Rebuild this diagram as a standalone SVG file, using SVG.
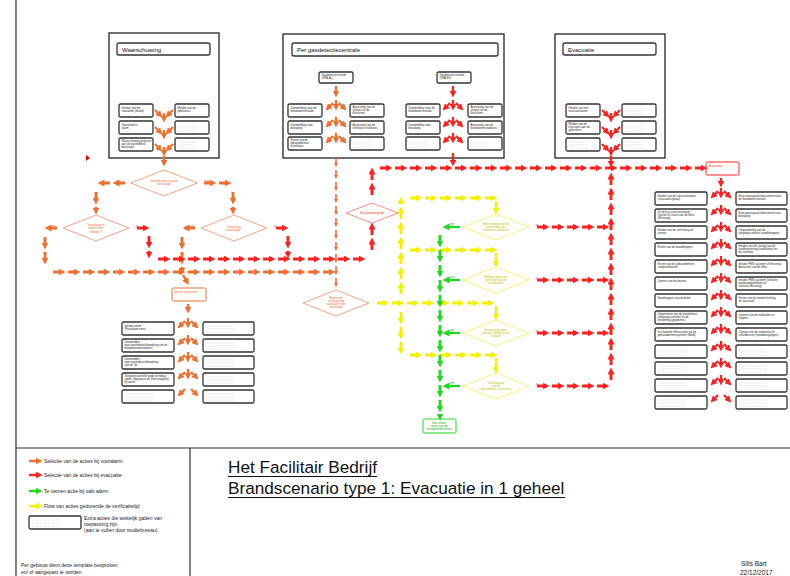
<svg xmlns="http://www.w3.org/2000/svg" width="790" height="576" viewBox="0 0 790 576">
<defs>
<style>
text{font-family:"Liberation Sans",Arial,sans-serif}
.fr{fill:#fff;stroke:#222;stroke-width:1.3}
.tb{fill:#fff;stroke:#333;stroke-width:1.3}
.tt{font-size:6px;fill:#111}
.sb{fill:#fff;stroke:#333;stroke-width:1.3}
.s{font-size:2.8px;fill:#222}
.fl{stroke:#cfcfcf;stroke-width:0.6;stroke-dasharray:1 0.6;fill:none}
.d{fill:none;stroke-width:2.9;stroke-dasharray:9 6;stroke-dashoffset:9}
.dt{fill:none;stroke-width:1.6;stroke-dasharray:7 5;stroke-dashoffset:7}
.a{fill:none;stroke-width:2.3}
.o{stroke:#ef6f2e;marker-mid:url(#mo);marker-end:url(#mo)}
.r{stroke:#ff2020;marker-mid:url(#mr);marker-end:url(#mr)}
.y{stroke:#f2f200;marker-mid:url(#my);marker-end:url(#my)}
.g{stroke:#1fd81f;marker-mid:url(#mg);marker-end:url(#mg)}
.ot{stroke:#ef6f2e;marker-mid:url(#mos);marker-end:url(#mos)}
.dio{fill:#fff;stroke:#f6a57f;stroke-width:1}
.dir{fill:#fff;stroke:#ff8a8a;stroke-width:1}
.diy{fill:#fff;stroke:#f8f27a;stroke-width:1}
.lo{font-size:3px;fill:#ef6f2e;text-anchor:middle}
.lr{font-size:3px;fill:#ff2020;text-anchor:middle}
.ly{font-size:3px;fill:#c9bc00;text-anchor:middle}
.lg{font-size:3px;fill:#1aa81a;text-anchor:middle}
.lgd{font-size:5px;fill:#222}
</style>
<marker id="mo" viewBox="0 0 7 7" refX="3.5" refY="3.5" markerWidth="7" markerHeight="7" markerUnits="userSpaceOnUse" orient="auto"><path d="M0,0L7,3.5L0,7z" fill="#ef6f2e"/></marker>
<marker id="mos" viewBox="0 0 4 4" refX="2" refY="2" markerWidth="4" markerHeight="4" markerUnits="userSpaceOnUse" orient="auto"><path d="M0,0L4,2L0,4z" fill="#ef6f2e"/></marker>
<marker id="mr" viewBox="0 0 7 7" refX="3.5" refY="3.5" markerWidth="7" markerHeight="7" markerUnits="userSpaceOnUse" orient="auto"><path d="M0,0L7,3.5L0,7z" fill="#ff2020"/></marker>
<marker id="my" viewBox="0 0 7 7" refX="3.5" refY="3.5" markerWidth="7" markerHeight="7" markerUnits="userSpaceOnUse" orient="auto"><path d="M0,0L7,3.5L0,7z" fill="#f2f200"/></marker>
<marker id="mg" viewBox="0 0 7 7" refX="3.5" refY="3.5" markerWidth="7" markerHeight="7" markerUnits="userSpaceOnUse" orient="auto"><path d="M0,0L7,3.5L0,7z" fill="#1fd81f"/></marker>
<g id="fo-o"><path class="a o" d="M0 -4v7"/><path class="a o" d="M-3 -1l-5 5"/><path class="a o" d="M3 -1l5 5"/></g>
<g id="fo-o-last"><path class="a o" d="M-3 -1l-5 5"/><path class="a o" d="M3 -1l5 5"/></g>
<g id="fo-r"><path class="a r" d="M0 -4v7"/><path class="a r" d="M-3 -1l-5 5"/><path class="a r" d="M3 -1l5 5"/></g>
<g id="fo-r-last"><path class="a r" d="M-3 -1l-5 5"/><path class="a r" d="M3 -1l5 5"/></g>
<g id="fi-o"><path class="a o" d="M-9 6l5 5"/><path class="a o" d="M9 6l-5 5"/><path class="a o" d="M0 9v6"/></g>
<g id="fi-r"><path class="a r" d="M-9 6l5 5"/><path class="a r" d="M9 6l-5 5"/><path class="a r" d="M0 9v6"/></g>
<path id="fill34" class="fl" d="M3 4h19M3 7h19M3 10h19"/>
<path id="fill52" class="fl" d="M3 4h28M3 7h28M3 10h28"/>
</defs>
<rect width="790" height="576" fill="#fff"/>

<g id="frame" fill="none" stroke="#333" stroke-width="1.2"><path d="M16 0V576M16 448H790M190 448V576"/></g>

<!-- Waarschuwing -->
<g id="waarschuwing">
<rect class="fr" x="109" y="33" width="110" height="125"/>
<rect class="tb" x="117" y="43" width="93" height="12" rx="2"/>
<text class="tt" x="122" y="51.5">Waarschuwing</text>
</g>
<g id="w-l1" transform="translate(119,104)"><rect class="sb" width="34" height="13" rx="1.5"/><text class="s" x="2.5" y="4.5">Inhalen van het<tspan x="2.5" dy="3.2">vooralarm (brand)</tspan></text></g>
<g id="w-l2" transform="translate(119,121)"><rect class="sb" width="34" height="13" rx="1.5"/><text class="s" x="2.5" y="4.5">Vooralarm in<tspan x="2.5" dy="3.2">alarm</tspan></text></g>
<g id="w-l3" transform="translate(119,138)"><rect class="sb" width="34" height="13" rx="1.5"/><text class="s" x="2.5" y="4.2">Waarschuwing gegeven<tspan x="2.5" dy="3.1">aan de wachtdienst</tspan><tspan x="2.5" dy="3.1">bevestigd</tspan></text></g>
<g id="w-r1" transform="translate(175,104)"><rect class="sb" width="34" height="13" rx="1.5"/><text class="s" x="2.5" y="4.5">Melden van de<tspan x="2.5" dy="3.2">gebruikers</tspan></text></g>
<g id="w-r2" transform="translate(175,121)"><rect class="sb" width="34" height="13" rx="1.5"/><use href="#fill34"/></g>
<g id="w-r3" transform="translate(175,138)"><rect class="sb" width="34" height="13" rx="1.5"/><use href="#fill34"/></g>

<!-- Per gasdetectiecentrale -->
<g id="gasdetectie">
<rect class="fr" x="283" y="34" width="221" height="124"/>
<rect class="tb" x="292" y="43" width="206" height="13" rx="2"/>
<text class="tt" x="297" y="52">Per gasdetectiecentrale</text>
</g>
<g id="g-pre" transform="translate(319,72)"><rect class="sb" width="34" height="11" rx="1.5"/><text class="s" x="2.5" y="4.2">Gasdetectiecentrale<tspan x="2.5" dy="3.2">(VPA-AL)</tspan></text></g>
<g id="g-ev" transform="translate(437,72)"><rect class="sb" width="34" height="11" rx="1.5"/><text class="s" x="2.5" y="4.2">Gasdetectiecentrale<tspan x="2.5" dy="3.2">(VPA-EV)</tspan></text></g>
<g id="g-a1" transform="translate(288,104)"><rect class="sb" width="34" height="13" rx="1.5"/><text class="s" x="2.5" y="4.5">Doormelding naar de<tspan x="2.5" dy="3.2">brandweercentrale</tspan></text></g>
<g id="g-a2" transform="translate(288,121)"><rect class="sb" width="34" height="13" rx="1.5"/><text class="s" x="2.5" y="4.5">Doormelding naar<tspan x="2.5" dy="3.2">bewaking</tspan></text></g>
<g id="g-a3" transform="translate(288,137)"><rect class="sb" width="34" height="13" rx="1.5"/><text class="s" x="2.5" y="4.2">Sturen van de<tspan x="2.5" dy="3.1">gebouwbeheer-</tspan><tspan x="2.5" dy="3.1">installaties</tspan></text></g>
<g id="g-b1" transform="translate(350,104)"><rect class="sb" width="34" height="13" rx="1.5"/><text class="s" x="2.5" y="4.2">Aansturing van de<tspan x="2.5" dy="3.1">sirenes en de</tspan><tspan x="2.5" dy="3.1">flitslichten</tspan></text></g>
<g id="g-b2" transform="translate(350,121)"><rect class="sb" width="34" height="13" rx="1.5"/><text class="s" x="2.5" y="4.5">Aansturing van de<tspan x="2.5" dy="3.2">ventilatie-installaties</tspan></text></g>
<g id="g-b3" transform="translate(350,137)"><rect class="sb" width="34" height="13" rx="1.5"/><use href="#fill34"/></g>
<g id="g-c1" transform="translate(406,104)"><rect class="sb" width="34" height="13" rx="1.5"/><text class="s" x="2.5" y="4.5">Doormelding naar de<tspan x="2.5" dy="3.2">brandweercentrale</tspan></text></g>
<g id="g-c2" transform="translate(406,121)"><rect class="sb" width="34" height="13" rx="1.5"/><text class="s" x="2.5" y="4.5">Doormelding naar<tspan x="2.5" dy="3.2">bewaking</tspan></text></g>
<g id="g-c3" transform="translate(406,137)"><rect class="sb" width="34" height="13" rx="1.5"/><use href="#fill34"/></g>
<g id="g-d1" transform="translate(468,104)"><rect class="sb" width="34" height="13" rx="1.5"/><text class="s" x="2.5" y="4.2">Aansturing van de<tspan x="2.5" dy="3.1">sirenes en de</tspan><tspan x="2.5" dy="3.1">flitslichten</tspan></text></g>
<g id="g-d2" transform="translate(468,121)"><rect class="sb" width="34" height="13" rx="1.5"/><text class="s" x="2.5" y="4.5">Aansturing van de<tspan x="2.5" dy="3.2">brandweerinstallaties</tspan></text></g>
<g id="g-d3" transform="translate(468,137)"><rect class="sb" width="34" height="13" rx="1.5"/><use href="#fill34"/></g>

<!-- Evacuatie top -->
<g id="evacuatie">
<rect class="fr" x="555" y="34" width="110" height="124"/>
<rect class="tb" x="563" y="43" width="93" height="12" rx="2"/>
<text class="tt" x="568" y="51.5">Evacuatie</text>
</g>
<g id="e-l1" transform="translate(566,104)"><rect class="sb" width="34" height="13" rx="1.5"/><text class="s" x="2.5" y="4.5">Inhalen van een<tspan x="2.5" dy="3.2">evacuatiealarm</tspan></text></g>
<g id="e-l2" transform="translate(566,121)"><rect class="sb" width="34" height="13" rx="1.5"/><text class="s" x="2.5" y="4.2">Melden van de<tspan x="2.5" dy="3.1">evacuatie aan de</tspan><tspan x="2.5" dy="3.1">gebruikers</tspan></text></g>
<g id="e-l3" transform="translate(566,138)"><rect class="sb" width="34" height="13" rx="1.5"/><use href="#fill34"/></g>
<g id="e-r1" transform="translate(622,104)"><rect class="sb" width="34" height="13" rx="1.5"/><use href="#fill34"/></g>
<g id="e-r2" transform="translate(622,121)"><rect class="sb" width="34" height="13" rx="1.5"/><use href="#fill34"/></g>
<g id="e-r3" transform="translate(622,138)"><rect class="sb" width="34" height="13" rx="1.5"/><use href="#fill34"/></g>

<!-- Decision diamonds -->
<g id="d1"><polygon class="dio" points="130.5,183 164,170 197.5,183 164,196"/><text class="lo" x="164" y="182">Vooralarm/evacuatie<tspan x="164" dy="3.3">bevestigd</tspan></text></g>
<g id="d2"><polygon class="dio" points="63,228 96,215 129,228 96,241"/><text class="lo" x="96" y="226">Vooralarm in<tspan x="96" dy="3.3">zone/ meer</tspan><tspan x="96" dy="3.3">melders?</tspan></text></g>
<g id="d3"><polygon class="dio" points="201,228 234,215 267,228 234,241"/><text class="lo" x="234" y="227.5">Vooralarm<tspan x="234" dy="3.3">bevestigd?</tspan></text></g>
<g id="d4"><polygon class="dio" points="303,303 336,290 369,303 336,316"/><text class="lo" x="336" y="298.5">Binnen de<tspan x="336" dy="3.3">verificatietijd</tspan><tspan x="336" dy="3.3">vooralarm niet</tspan><tspan x="336" dy="3.3">bevestigd</tspan></text></g>
<g id="d-rood"><polygon class="dir" points="346,213 372,203 398,213 372,223"/><text class="lr" x="372" y="214">Na alarmering tijd</text></g>
<g id="y1"><polygon class="diy" points="463,227 496,214 529,227 496,240"/><text class="ly" x="496" y="224.5">Bevestiging van de<tspan x="496" dy="3.3">brand door de</tspan><tspan x="496" dy="3.3">interne wachtdienst</tspan></text></g>
<g id="y2"><polygon class="diy" points="463,280 496,267 529,280 496,293"/><text class="ly" x="496" y="277.5">Melding door een<tspan x="496" dy="3.3">gebruiker via de</tspan><tspan x="496" dy="3.3">handmelder</tspan></text></g>
<g id="y3"><polygon class="diy" points="463,333 496,320 529,333 496,346"/><text class="ly" x="496" y="330.5">Bevestiging door<tspan x="496" dy="3.3">tweede melder/zone</tspan><tspan x="496" dy="3.3">in alarm</tspan></text></g>
<g id="y4"><polygon class="diy" points="463,386 496,373 529,386 496,399"/><text class="ly" x="496" y="383.5">Verificatietijd<tspan x="496" dy="3.3">van de</tspan><tspan x="496" dy="3.3">wachtdienst verstreken</tspan></text></g>
<g id="vals-alarm"><rect x="423" y="419" width="33" height="14" rx="1.5" fill="#fff" stroke="#1fd81f" stroke-width="1"/><text class="lg" x="439.5" y="423.5">Vals alarm:<tspan x="439.5" dy="3.2">reset van de</tspan><tspan x="439.5" dy="3.2">brandmeldcentrale</tspan></text></g>

<!-- Vooralarm list -->
<g id="acties-vooralarm"><rect x="172" y="288" width="34" height="13" rx="1.5" fill="#fff" stroke="#ef6f2e" stroke-width="1"/><text class="lo" x="175" y="292.5" style="text-anchor:start">Acties vooralarm:</text></g>
<g id="v-l1" transform="translate(122,322)"><rect class="sb" width="52" height="13" rx="1.5"/><text class="s" x="2.5" y="4.5">Inhalen alarm<tspan x="2.5" dy="3.2">(Preaalarm zone)</tspan></text></g>
<g id="v-l2" transform="translate(122,339)"><rect class="sb" width="52" height="13" rx="1.5"/><text class="s" x="2.5" y="4.2">Doormelden<tspan x="2.5" dy="3.1">naar wachtdienst/bewaking van de</tspan><tspan x="2.5" dy="3.1">brandweerwachtdienst</tspan></text></g>
<g id="v-l3" transform="translate(122,356)"><rect class="sb" width="52" height="13" rx="1.5"/><text class="s" x="2.5" y="4.2">Doormelden<tspan x="2.5" dy="3.1">naar wachtdienst/bewaking</tspan><tspan x="2.5" dy="3.1">van de 'dic'</tspan></text></g>
<g id="v-l4" transform="translate(122,373)"><rect class="sb" width="52" height="13" rx="1.5"/><text class="s" x="2.5" y="4.2">Toegangscontrole wordt zichtbaar<tspan x="2.5" dy="3.1">(open, toegang in de liften mogelijk)</tspan><tspan x="2.5" dy="3.1">bij alarm</tspan></text></g>
<g id="v-l5" transform="translate(122,390)"><rect class="sb" width="52" height="13" rx="1.5"/><use href="#fill52"/></g>
<g id="v-r1" transform="translate(203,322)"><rect class="sb" width="51" height="13" rx="1.5"/><use href="#fill52"/></g>
<g id="v-r2" transform="translate(203,339)"><rect class="sb" width="51" height="13" rx="1.5"/><use href="#fill52"/></g>
<g id="v-r3" transform="translate(203,356)"><rect class="sb" width="51" height="13" rx="1.5"/><use href="#fill52"/></g>
<g id="v-r4" transform="translate(203,373)"><rect class="sb" width="51" height="13" rx="1.5"/><use href="#fill52"/></g>
<g id="v-r5" transform="translate(203,390)"><rect class="sb" width="51" height="13" rx="1.5"/><use href="#fill52"/></g>

<!-- Evacuatie list -->
<g id="acties-evacuatie"><rect x="706" y="162" width="33" height="13" rx="1.5" fill="#fff" stroke="#ff2020" stroke-width="1"/><text class="lr" x="709" y="166.5" style="text-anchor:start">Evacuatie:</text></g>
<g id="x-l1" transform="translate(655,192)"><rect class="sb" width="52" height="13" rx="1.5"/><text class="s" x="2.5" y="4.5">Inhalen van de evacuatiealarm<tspan x="2.5" dy="3.2">(evacuatiesignaal)</tspan></text></g>
<g id="x-l2" transform="translate(655,209)"><rect class="sb" width="52" height="13" rx="1.5"/><text class="s" x="2.5" y="4.2">Uit de bus evacuatiealarm<tspan x="2.5" dy="3.1">Opstart of sturen van de liften</tspan><tspan x="2.5" dy="3.1">(liftsturing)</tspan></text></g>
<g id="x-l3" transform="translate(655,226)"><rect class="sb" width="52" height="13" rx="1.5"/><text class="s" x="2.5" y="4.5">Inhalen van de verlichting en<tspan x="2.5" dy="3.2">sirenes</tspan></text></g>
<g id="x-l4" transform="translate(655,243)"><rect class="sb" width="52" height="13" rx="1.5"/><text class="s" x="2.5" y="4.5">Sturen van de brandkleppen</text></g>
<g id="x-l5" transform="translate(655,260)"><rect class="sb" width="52" height="13" rx="1.5"/><text class="s" x="2.5" y="4.5">Sturen van de gebouwbeheer-<tspan x="2.5" dy="3.2">compartimenten</tspan></text></g>
<g id="x-l6" transform="translate(655,277)"><rect class="sb" width="52" height="13" rx="1.5"/><text class="s" x="2.5" y="4.5">Openen van de deuren</text></g>
<g id="x-l7" transform="translate(655,294)"><rect class="sb" width="52" height="13" rx="1.5"/><text class="s" x="2.5" y="4.5">Noodtrappen vrijschakelen</text></g>
<g id="x-l8" transform="translate(655,311)"><rect class="sb" width="52" height="13" rx="1.5"/><text class="s" x="2.5" y="4.2">Organiseren van de deurbeheer<tspan x="2.5" dy="3.1">(toegangscontrole) en de</tspan><tspan x="2.5" dy="3.1">ontruiming (gegevens)</tspan></text></g>
<g id="x-l9" transform="translate(655,328)"><rect class="sb" width="52" height="13" rx="1.5"/><text class="s" x="2.5" y="4.5">Inschakelen liftevacuatie via de<tspan x="2.5" dy="3.2">gebouwbeheersysteem (Mode)</tspan></text></g>
<g id="x-l10" transform="translate(655,345)"><rect class="sb" width="52" height="13" rx="1.5"/><use href="#fill52"/></g>
<g id="x-l11" transform="translate(655,362)"><rect class="sb" width="52" height="13" rx="1.5"/><use href="#fill52"/></g>
<g id="x-l12" transform="translate(655,379)"><rect class="sb" width="52" height="13" rx="1.5"/><use href="#fill52"/></g>
<g id="x-l13" transform="translate(655,396)"><rect class="sb" width="52" height="13" rx="1.5"/><use href="#fill52"/></g>
<g id="x-r1" transform="translate(736,192)"><rect class="sb" width="51" height="13" rx="1.5"/><text class="s" x="2.5" y="4.5">Evacuatiesignaal doorvoeren naar<tspan x="2.5" dy="3.2">de brandweercentrale</tspan></text></g>
<g id="x-r2" transform="translate(736,209)"><rect class="sb" width="51" height="13" rx="1.5"/><text class="s" x="2.5" y="4.5">Evacuatiesignaal doorvoeren naar<tspan x="2.5" dy="3.2">bewaking</tspan></text></g>
<g id="x-r3" transform="translate(736,226)"><rect class="sb" width="51" height="13" rx="1.5"/><text class="s" x="2.5" y="4.5">Ontgrendeling van de<tspan x="2.5" dy="3.2">toegangscontrole (noodknoppen)</tspan></text></g>
<g id="x-r4" transform="translate(736,243)"><rect class="sb" width="51" height="13" rx="1.5"/><text class="s" x="2.5" y="4.2">Inhalen van de sturing van de<tspan x="2.5" dy="3.1">rookbeheersing (rookluiken) en</tspan><tspan x="2.5" dy="3.1">de ventilatie</tspan></text></g>
<g id="x-r5" transform="translate(736,260)"><rect class="sb" width="51" height="13" rx="1.5"/><text class="s" x="2.5" y="4.5">Inhalen PMD systeem of liftsturing<tspan x="2.5" dy="3.2">Aansturen van de liften</tspan></text></g>
<g id="x-r6" transform="translate(736,277)"><rect class="sb" width="51" height="13" rx="1.5"/><text class="s" x="2.5" y="4.2">Inhalen PMD systeem (verlaten<tspan x="2.5" dy="3.1">brandcompartiment en</tspan><tspan x="2.5" dy="3.1">stilstaan liftsturing)</tspan></text></g>
<g id="x-r7" transform="translate(736,294)"><rect class="sb" width="51" height="13" rx="1.5"/><text class="s" x="2.5" y="4.5">Sturen van de noodverlichting<tspan x="2.5" dy="3.2">en evacuatie</tspan></text></g>
<g id="x-r8" transform="translate(736,311)"><rect class="sb" width="51" height="13" rx="1.5"/><text class="s" x="2.5" y="4.5">Openen van de rookluiken in<tspan x="2.5" dy="3.2">trappen</tspan></text></g>
<g id="x-r9" transform="translate(736,328)"><rect class="sb" width="51" height="13" rx="1.5"/><text class="s" x="2.5" y="4.5">Openen van de automatische<tspan x="2.5" dy="3.2">schuifdeuren (nooddoorgangen)</tspan></text></g>
<g id="x-r10" transform="translate(736,345)"><rect class="sb" width="51" height="13" rx="1.5"/><use href="#fill52"/></g>
<g id="x-r11" transform="translate(736,362)"><rect class="sb" width="51" height="13" rx="1.5"/><use href="#fill52"/></g>
<g id="x-r12" transform="translate(736,379)"><rect class="sb" width="51" height="13" rx="1.5"/><use href="#fill52"/></g>
<g id="x-r13" transform="translate(736,396)"><rect class="sb" width="51" height="13" rx="1.5"/><use href="#fill52"/></g>

<!-- Connectors -->
<g id="connectors">
<use href="#fi-o" x="164" y="104"/><use href="#fi-o" x="164" y="121"/><use href="#fi-o" x="164" y="138"/>
<path class="a o" d="M164 156v7"/>
<path class="a o" d="M336 86v8"/>
<use href="#fo-o" x="336" y="104"/><use href="#fo-o" x="336" y="121"/><use href="#fo-o" x="336" y="137"/>
<path class="a r" d="M453 86v8"/>
<use href="#fo-r" x="453" y="104"/><use href="#fo-r" x="453" y="121"/><use href="#fo-r" x="453" y="137"/>
<path class="a r" d="M453 153v10"/>
<use href="#fi-r" x="611" y="104"/><use href="#fi-r" x="611" y="121"/><use href="#fi-r" x="611" y="138"/>
<path class="a r" d="M611 156v8"/>

<path class="d o" d="M131 183h-15h-15"/>
<path class="d o" d="M96 186v15v10"/>
<path class="d o" d="M198 183h15h15"/>
<path class="d o" d="M233 186v15v10"/>
<path class="d o" d="M63 228h-15"/>
<path class="d o" d="M45 231v15v15"/>
<path class="d o" d="M47 272h15h15h15h15h15h15h15h15h15h15h15h15h15h15h15h15h15h15h15"/>
<path class="d o" d="M201 228h-15"/>
<path class="d o" d="M182 231v15v15v10"/>
<path class="a o" d="M183 275l4 7"/>
<path class="dt ot" d="M336 153v12v12v12v12v12v12v12v12v12v12v12"/>
<text class="lo" x="118" y="181.5">ja</text>
<text class="lo" x="207" y="181.5">nee</text>
<text class="lo" x="53" y="226.5">nee</text>
<text class="lr" x="137" y="226.5">ja</text>
<text class="lo" x="192" y="226.5">nee</text>
<text class="lr" x="275" y="226.5">ja</text>

<path class="d r" d="M131 228h15"/>
<path class="d r" d="M149 230v15v10"/>
<path class="d r" d="M270 228h15"/>
<path class="d r" d="M288 230v15v10"/>
<path class="d r" d="M152 259h15h15h15h15h15h15h15h15h15h15h15h15h15h15"/>
<path class="d r" d="M372 256v-15v-15"/>
<path class="d r" d="M372 201v-15v-15"/>
<path class="d r" d="M374 168h15h15h15h15h15h15h15h15h15h15h15h15h15h15h15h15h15h15h15h15h15h15"/>
<path class="d r" d="M531 227h15h15h15h15h15"/>
<path class="d r" d="M531 280h15h15h15h15h15"/>
<path class="d r" d="M531 333h15h15h15h15h15"/>
<path class="d r" d="M531 386h15h15h15h15h15"/>
<path class="d r" d="M611 386v-15v-15v-15v-15v-15v-15v-15v-15v-15v-15v-15v-15v-15v-15"/>
<text class="lr" x="537" y="225.5">ja</text>
<text class="lr" x="537" y="278.5">ja</text>
<text class="lr" x="537" y="331.5">ja</text>
<text class="lr" x="537" y="384.5">ja</text>
<path d="M86 155l4 3l-4 3z" fill="#e00000"/>

<path class="d y" d="M371 303h15h15h15h15h15h15h15h15"/>
<path class="d y" d="M401 300v-15v-15v-15v-15v-15v-15v-10"/>
<path class="d y" d="M401 306v15v15v15"/>
<path class="d y" d="M404 198h15h15h15h15h15h15"/>
<path class="d y" d="M404 250h15h15h15h15h15h15"/>
<path class="d y" d="M404 355h15h15h15h15h15h15"/>
<path class="a y" d="M496 201v10"/>
<path class="a y" d="M496 253v11"/>
<path class="a y" d="M496 306v11"/>
<path class="a y" d="M496 358v12"/>

<path class="d g" d="M440 229v15v15v15v15v15v15v15v15v15v15v15v15v8"/>
<path class="a g" d="M460 227H446"/>
<path class="a g" d="M460 280H446"/>
<path class="a g" d="M460 333H446"/>
<path class="a g" d="M460 386H446"/>
<text class="lg" x="452" y="225">nee</text>
<text class="lg" x="452" y="278">nee</text>
<text class="lg" x="452" y="331">nee</text>
<text class="lg" x="452" y="384">nee</text>

<path class="a o" d="M188 304v6"/>
<use href="#fo-o" x="188" y="322"/><use href="#fo-o" x="188" y="339"/><use href="#fo-o" x="188" y="356"/><use href="#fo-o" x="188" y="373"/><use href="#fo-o-last" x="188" y="390"/>
<path class="a r" d="M721 178v6"/>
<use href="#fo-r" x="721" y="192"/><use href="#fo-r" x="721" y="209"/><use href="#fo-r" x="721" y="226"/><use href="#fo-r" x="721" y="243"/><use href="#fo-r" x="721" y="260"/><use href="#fo-r" x="721" y="277"/><use href="#fo-r" x="721" y="294"/><use href="#fo-r" x="721" y="311"/><use href="#fo-r" x="721" y="328"/><use href="#fo-r" x="721" y="345"/><use href="#fo-r" x="721" y="362"/><use href="#fo-r" x="721" y="379"/><use href="#fo-r-last" x="721" y="396"/>
</g>

<!-- Legend -->
<g id="legend">
<path class="a" stroke="#ef6f2e" marker-end="url(#mo)" d="M29 461H39"/>
<text class="lgd" x="44" y="462.8">Selectie van de acties bij vooralarm</text>
<path class="a" stroke="#ff2020" marker-end="url(#mr)" d="M29 475H39"/>
<text class="lgd" x="44" y="476.8">Selectie van de acties bij evacuatie</text>
<path class="a" stroke="#1fd81f" marker-end="url(#mg)" d="M29 491H39"/>
<text class="lgd" x="44" y="492.8">Te nemen actie bij vals alarm</text>
<path class="a" stroke="#f2f200" marker-end="url(#my)" d="M29 506H39"/>
<text class="lgd" x="44" y="507.8">Flow van acties gedurende de verificatietijd</text>
<rect class="sb" x="29" y="516" width="52" height="13" rx="1.5"/>
<use href="#fill52" x="29" y="516"/>
<text class="lgd" x="84" y="520">Extra acties die wettelijk gaden van</text>
<text class="lgd" x="84" y="526">toepassing zijn.</text>
<text class="lgd" x="84" y="532">(aan te vullen door studiebureau)</text>
<text class="lgd" x="21" y="567">Per gebouw dient deze template besproken</text>
<text class="lgd" x="21" y="574">en/ of aangepast te worden</text>
</g>

<!-- Title -->
<g id="title">
<text x="228" y="473" font-size="17.2" fill="#111">Het Facilitair Bedrijf</text>
<path d="M228 476.5H377" stroke="#111" stroke-width="1"/>
<text x="228" y="494" font-size="17.2" fill="#111">Brandscenario type 1: Evacuatie in 1 geheel</text>
<path d="M228 497.5H565" stroke="#111" stroke-width="1"/>
<text x="741" y="566" font-size="6.5" fill="#222">Sills Bart</text>
<text x="740" y="575" font-size="6.5" fill="#222">22/12/2017</text>
</g>
</svg>
